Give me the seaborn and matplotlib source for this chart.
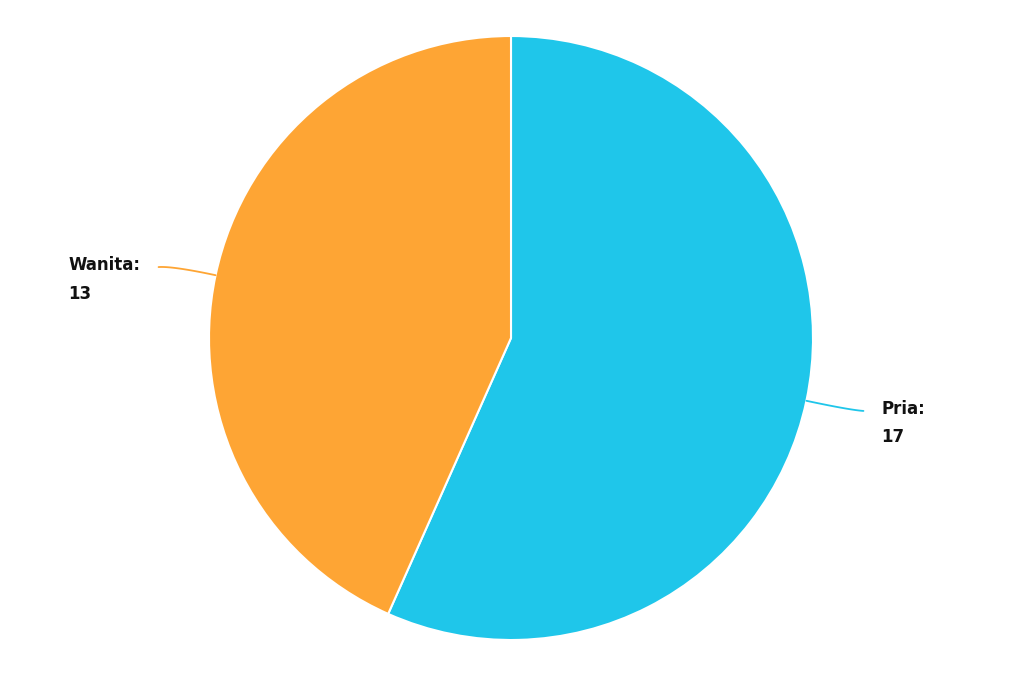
import matplotlib.pyplot as plt
import numpy as np
import seaborn as sns

sns.set_theme(style="white")
plt.rcParams["font.family"] = ["DejaVu Sans"]

labels = ["Pria", "Wanita"]
values = [17, 13]
colors = ["#1fc6ea", "#fea534"]

fig = plt.figure(figsize=(10.24, 6.83), dpi=100)
ax = fig.add_axes([0, 0, 1, 1])

cx, cy, r = 511, 345, 302
wedges, _ = ax.pie(values, colors=colors, startangle=90, counterclock=False,
                   center=(cx, cy), radius=r, frame=True,
                   wedgeprops=dict(edgecolor="white", linewidth=1.5))
ax.set_xlim(0, 1024)
ax.set_ylim(0, 683)
ax.set_aspect("equal")
ax.axis("off")

for w, lab, val, col in zip(wedges, labels, values, colors):
    ang = np.deg2rad((w.theta1 + w.theta2) / 2)
    sx, sy = cx + r * np.cos(ang), cy + r * np.sin(ang)
    side = np.sign(np.cos(ang))
    mx, my = cx + (r + 44) * np.cos(ang), cy + (r + 44) * np.sin(ang)
    ex, ey = mx + side * 14, my - 1
    t = np.linspace(0, 1, 30)
    bx = (1 - t) ** 2 * sx + 2 * (1 - t) * t * mx + t ** 2 * ex
    by = (1 - t) ** 2 * sy + 2 * (1 - t) * t * my + t ** 2 * ey
    ax.plot(bx, by, color=col, lw=1.3, solid_capstyle="round")
    ax.text(ex + side * 18, ey + 11, f"{lab}:\n{val}", ha="left" if side > 0 else "right",
            va="top", fontsize=12, fontweight="bold", color="#111111",
            linespacing=1.75, multialignment="left")

fig.savefig("out.png", dpi=100, facecolor="white")
